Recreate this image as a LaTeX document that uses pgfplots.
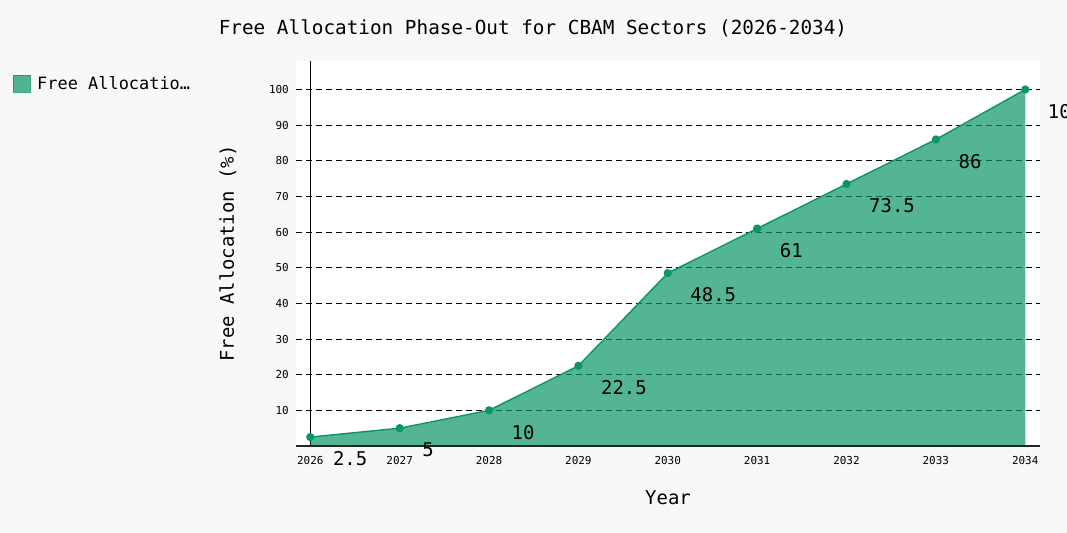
\documentclass[border=0pt]{standalone}
\usepackage{pgfplots}
\pgfplotsset{compat=1.18}
\usepackage{fontspec}
\setmainfont{DejaVu Sans Mono}
\definecolor{bg}{HTML}{F8F8F8}
\definecolor{cbam}{HTML}{0A9669}

\begin{document}
\begin{tikzpicture}[x=1bp,y=1bp]
  \fill[bg] (0,0) rectangle (1067,533);
  \begin{axis}[
    at={(296bp,87bp)}, anchor=south west,
    scale only axis, width=744bp, height=385bp,
    xmin=2025.84, xmax=2034.165, ymin=0, ymax=108,
    clip=false,
    axis background/.style={fill=white},
    axis line style={draw=none}, tick style={draw=none},
    xtick={2026,...,2034}, ytick={10,20,...,100},
    /pgf/number format/assume math mode=true,
    /pgf/number format/set thousands separator={},
    xticklabel style={anchor=center, yshift=-15bp, font=\fontsize{11}{13}\selectfont},
    yticklabel style={anchor=east, inner sep=0pt, xshift=-7bp, font=\fontsize{11}{13}\selectfont},
    ymajorgrids,
    major grid style={black, line width=0.8bp, dash pattern=on 6bp off 4bp},
    xlabel={Year}, ylabel={Free Allocation (\%)},
    xlabel style={at={(axis description cs:0.5,-0.135)}, anchor=center, font=\fontsize{19}{22}\selectfont},
    ylabel style={at={(axis description cs:-0.0914,0.5)}, anchor=center, font=\fontsize{19}{22}\selectfont},
  ]
    % filled area
    \addplot[draw=none, fill=cbam, fill opacity=0.7] coordinates {
      (2026,2.5) (2027,5) (2028,10) (2029,22.5) (2030,48.5)
      (2031,61) (2032,73.5) (2033,86) (2034,100)} \closedcycle;
    % line, dots and values
    \addplot[cbam, line width=1.4bp, mark=*, mark size=3.4bp,
      nodes near coords,
      every node near coord/.append style={anchor=west, inner sep=0pt,
        xshift=22bp, yshift=-22bp, black, font=\fontsize{19}{22}\selectfont}]
      coordinates {
      (2026,2.5) (2027,5) (2028,10) (2029,22.5) (2030,48.5)
      (2031,61) (2032,73.5) (2033,86) (2034,100)};
    \draw[black, line width=1.3bp] (axis cs:2026,0) -- (axis cs:2026,108);
    \draw[black!85, line width=1.3bp] (axis cs:2025.84,0) -- (axis cs:2034.165,0);
  \end{axis}
  \node[font=\fontsize{19.4}{23}\selectfont] at (533,505) {Free Allocation Phase-Out for CBAM Sectors (2026-2034)};
  \filldraw[fill=cbam, fill opacity=0.7, draw=cbam, draw opacity=0.8] (13,441) rectangle (30,458);
  \node[anchor=west, inner sep=0pt, font=\fontsize{17}{20}\selectfont] at (37,450) {Free Allocatio…};
  \pgfresetboundingbox
  \path[use as bounding box] (0,0) rectangle (1067,533);
\end{tikzpicture}
\end{document}
